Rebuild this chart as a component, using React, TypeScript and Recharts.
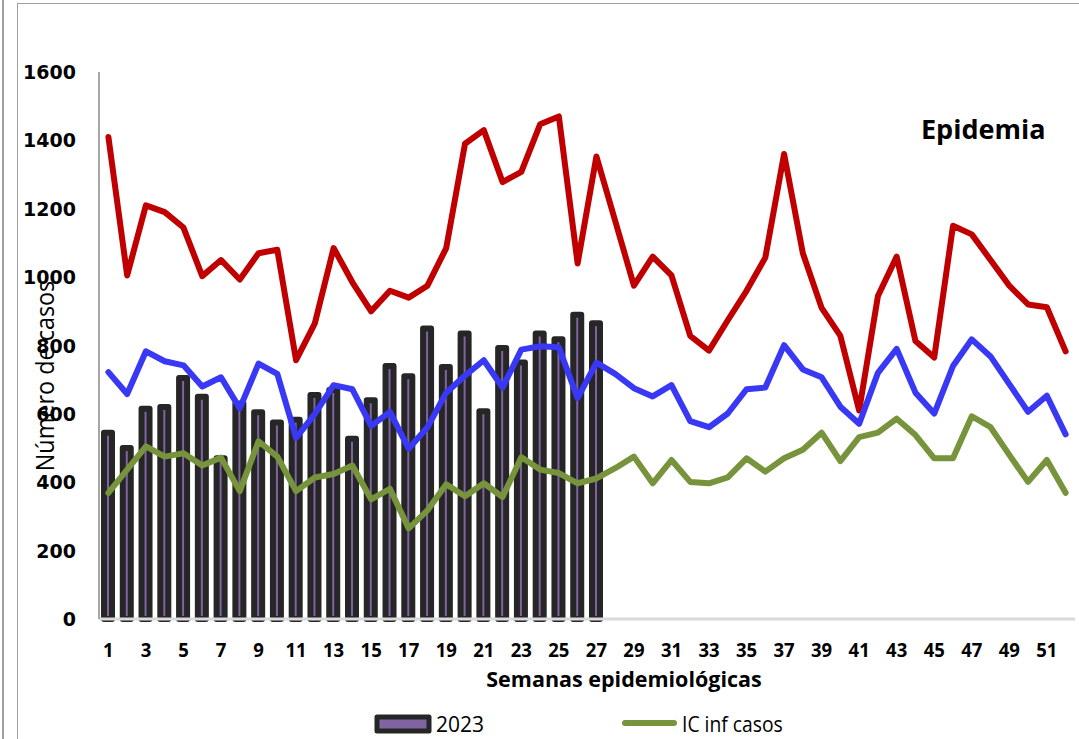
import {
    ComposedChart,
    Bar,
    Line,
    XAxis,
    YAxis,
} from "recharts";

const weeks = Array.from({ length: 52 }, (_, i) => i + 1);

// casos 2023 (semanas 1-27)
const cases2023 = [
    545, 500, 615, 620, 705, 650, 470, 630, 605, 575,
    583, 655, 670, 527, 640, 740, 710, 850, 737, 835,
    608, 793, 750, 835, 818, 890, 865,
];

// canal endemico
const epidemia = [
    1410, 1005, 1210, 1190, 1145, 1003, 1050, 993, 1070, 1080,
    757, 865, 1085, 985, 900, 960, 940, 975, 1085, 1390,
    1430, 1278, 1308, 1447, 1470, 1040, 1353, 1165, 975, 1060,
    1005, 828, 785, 874, 960, 1057, 1360, 1070, 910, 828,
    610, 945, 1060, 813, 765, 1150, 1125, 1050, 975, 920,
    912, 783,
];

const icSup = [
    722, 658, 783, 754, 742, 680, 707, 616, 747, 717,
    530, 600, 684, 672, 565, 606, 498, 561, 662, 712,
    757, 677, 788, 798, 795, 646, 750, 717, 675, 651,
    684, 579, 561, 601, 672, 677, 801, 730, 707, 621,
    571, 720, 790, 662, 601, 740, 818, 768, 687, 606,
    653, 540,
];

const icInf = [
    369, 437, 505, 475, 485, 449, 472, 374, 520, 475,
    374, 414, 424, 449, 350, 381, 265, 318, 394, 359,
    397, 357, 473, 437, 427, 397, 411, 441, 475, 397,
    465, 401, 397, 414, 470, 431, 470, 495, 545, 462,
    532, 545, 586, 538, 470, 470, 593, 561, 480, 401,
    465, 369,
];

const yTicks = [0, 200, 400, 600, 800, 1000, 1200, 1400, 1600];

const data = weeks.map((w, i) => ({
    week: w,
    casos: i < cases2023.length ? cases2023[i] : null,
    epidemia: epidemia[i],
    icSup: icSup[i],
    icInf: icInf[i],
}));

const sans = "'Open Sans', sans-serif";

const YTick = ({ y, payload }: any) => (
    <text x={76} y={y} dy={7} textAnchor="end" fontFamily="DejaVu Sans" fontWeight="bold" fontSize={19} fill="#000">
        {payload.value}
    </text>
);

const XTick = ({ x, payload }: any) => (
    <g transform={`translate(${x},657) scale(0.95,1)`}>
        <text x={0} y={0} textAnchor="middle" fontFamily={sans} fontWeight="bold" fontSize={19.5} fill="#000">
            {payload.value}
        </text>
    </g>
);

const App = () => {
    return (
        <div style={{ position: "absolute", left: 0, top: 0, width: 1079, height: 739, background: "#fff", overflow: "hidden" }}>
            {/* frame */}
            <div style={{ position: "absolute", left: 2, top: 0, width: 1.5, height: 739, background: "#a0a0a0" }} />
            <div style={{ position: "absolute", left: 17, top: 3, width: 1100, height: 800, borderLeft: "1.5px solid #a0a0a0", borderTop: "1.5px solid #a0a0a0" }} />

            <div style={{ position: "absolute", left: 0, top: 0 }}>
                <ComposedChart width={1079} height={739} data={data} margin={{ top: 72, right: 4, bottom: 0, left: 0 }}>
                    <Bar dataKey="casos" name="2023" barSize={8} fill="#8064A2" stroke="#262626" strokeWidth={6} strokeLinejoin="round" isAnimationActive={false} />
                    <XAxis
                        dataKey="week"
                        height={120}
                        interval={1}
                        tickLine={false}
                        axisLine={{ stroke: "#d9d9d9", strokeWidth: 3 }}
                        tick={<XTick />}
                        label={() => (
                            <text x={624} y={687} textAnchor="middle" fontFamily={sans} fontWeight="bold" fontSize={21.5} fill="#000">
                                Semanas epidemiológicas
                            </text>
                        )}
                    />
                    <YAxis
                        width={99}
                        domain={[0, 1600]}
                        ticks={yTicks}
                        tickLine={false}
                        axisLine={{ stroke: "#a6a6a6", strokeWidth: 2 }}
                        tick={<YTick />}
                        label={() => (
                            <g transform="translate(54,376) rotate(-90) scale(0.9,1)">
                                <text x={0} y={0} textAnchor="middle" fontFamily={sans} fontSize={26} fill="#000">
                                    Número de casos
                                </text>
                            </g>
                        )}
                    />
                    <Line dataKey="epidemia" name="Epidemia" stroke="#C00000" strokeWidth={6} dot={false} strokeLinejoin="round" strokeLinecap="round" isAnimationActive={false} />
                    <Line dataKey="icSup" name="IC sup casos" stroke="#3838F5" strokeWidth={6} dot={false} strokeLinejoin="round" strokeLinecap="round" isAnimationActive={false} />
                    <Line dataKey="icInf" name="IC inf casos" stroke="#77933C" strokeWidth={6} dot={false} strokeLinejoin="round" strokeLinecap="round" isAnimationActive={false} />
                </ComposedChart>
            </div>

            <div style={{ position: "absolute", left: 921, top: 110, fontFamily: sans, fontWeight: "bold", fontSize: 27, color: "#000" }}>
                Epidemia
            </div>

            {/* legend */}
            <svg style={{ position: "absolute", left: 0, top: 700 }} width={1079} height={39}>
                <rect x={377} y={17} width={52} height={14} fill="#8064A2" stroke="#262626" strokeWidth={5} strokeLinejoin="round" />
                <text x={436} y={32} fontFamily={sans} fontSize={21} fill="#000">2023</text>
                <line x1={625} y1={23} x2={674} y2={23} stroke="#77933C" strokeWidth={6} strokeLinecap="round" />
                <g transform="translate(682,32) scale(0.92,1)">
                    <text x={0} y={0} fontFamily={sans} fontSize={21} fill="#000">IC inf casos</text>
                </g>
            </svg>
        </div>
    );
};

export default App;
